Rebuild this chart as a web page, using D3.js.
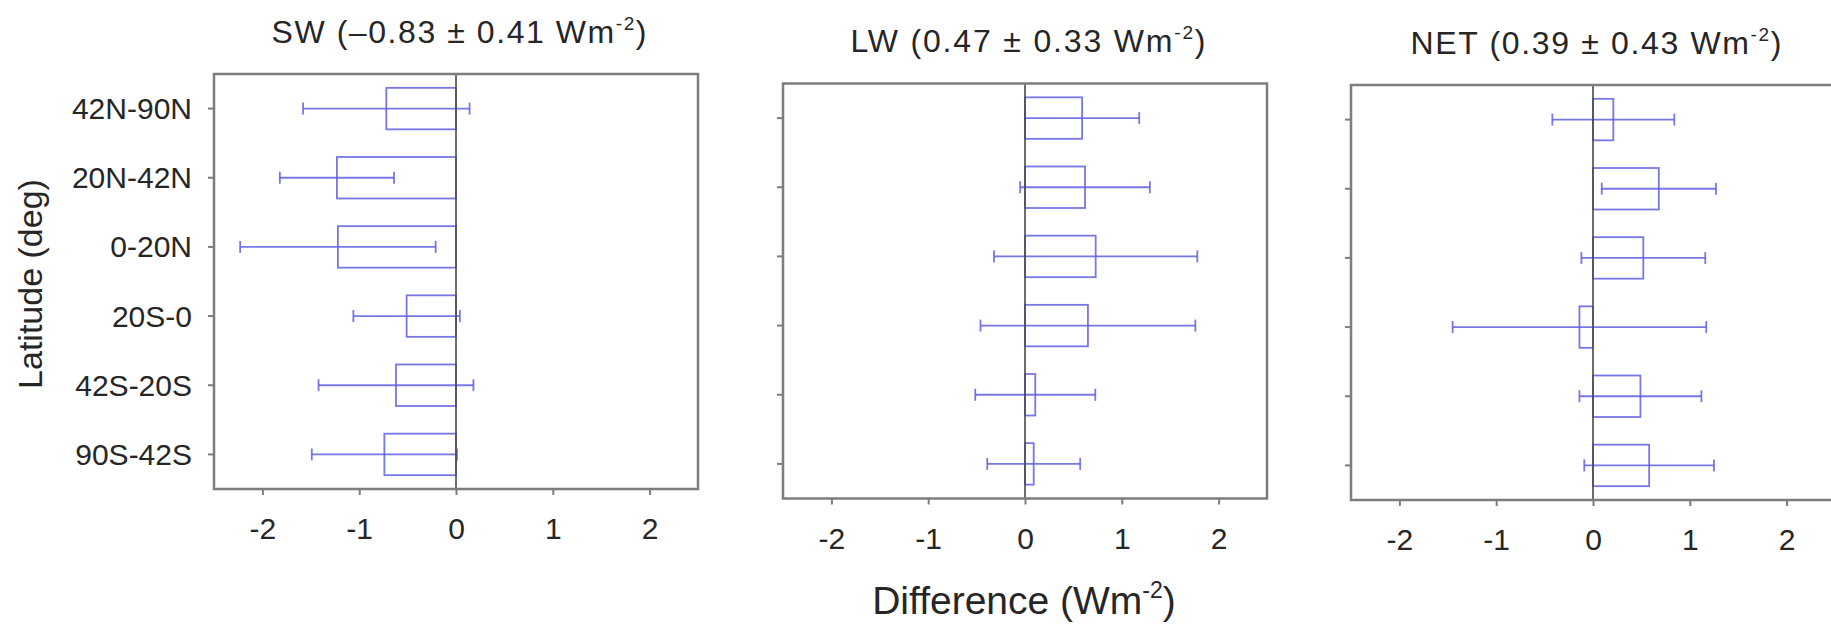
<!DOCTYPE html>
<html>
<head>
<meta charset="utf-8">
<script src="https://cdn.jsdelivr.net/npm/d3@7"></script>
<style>
  html, body { margin: 0; padding: 0; background: #fff; }
  svg { display: block; }
  text { font-family: "Liberation Sans", Arial, sans-serif; }
</style>
</head>
<body>
<svg id="chart" width="1831" height="624"></svg>
<script>
// ---------------- data ----------------
const categories = ["42N-90N", "20N-42N", "0-20N", "20S-0", "42S-20S", "90S-42S"];

const swValues  = [-0.72, -1.23, -1.22, -0.51, -0.62, -0.74];
const swErrors  = [ 0.86,  0.59,  1.01,  0.55,  0.80,  0.75];

const lwValues  = [0.59, 0.62, 0.73, 0.65, 0.106, 0.09];
const lwErrors  = [0.59, 0.67, 1.05, 1.11, 0.62, 0.48];

const netValues = [0.21, 0.68, 0.52, -0.14, 0.49, 0.58];
const netErrors = [0.63, 0.59, 0.64, 1.31, 0.63, 0.67];

const xTicks = [-2, -1, 0, 1, 2];
const xTickLabels = ["-2", "-1", "0", "1", "2"];
const xDomain = [-2.5, 2.5];

const panelNames = ["SW", "LW", "NET"];
const panelMeans = ["\u20130.83", "0.47", "0.39"];
const panelSpreads = ["0.41", "0.33", "0.43"];

const yAxisLabel = "Latitude (deg)";
const xAxisLabel = "Difference (Wm";

// ---------------- layout ----------------
const W = 484, H = 415;
const panelPos = [
  { left: 214,  top: 74,   titleLen: 375 },
  { left: 783,  top: 83.5, titleLen: 355 },
  { left: 1351, top: 85,   titleLen: 371 }
];
const series = [
  { values: swValues,  errors: swErrors },
  { values: lwValues,  errors: lwErrors },
  { values: netValues, errors: netErrors }
];

const blue = "#5f5fe2";
const frameColor = "#7d7d7d";
const textColor = "#262626";

const svg = d3.select("#chart");

const x = d3.scaleLinear().domain(xDomain).range([0, W]);
const y = d3.scaleBand().domain(categories).range([0, H])
  .paddingInner(0.4).paddingOuter(0.2);

series.forEach((s, i) => {
  const p = panelPos[i];
  const g = svg.append("g").attr("transform", `translate(${p.left},${p.top})`);

  // title
  const t = g.append("text")
    .attr("x", W / 2 + 3)
    .attr("y", -31.5)
    .attr("text-anchor", "middle")
    .attr("font-size", 32)
    .attr("fill", textColor)
    .attr("textLength", p.titleLen)
    .attr("lengthAdjust", "spacing");
  t.append("tspan").text(`${panelNames[i]} (${panelMeans[i]} \u00B1 ${panelSpreads[i]} Wm`);
  t.append("tspan").attr("font-size", 19).attr("dy", -13).text("-2");
  t.append("tspan").attr("dy", 13).text(")");

  const data = categories.map((c, k) => ({ cat: c, v: s.values[k], e: s.errors[k] }));

  // bars (outlined)
  g.selectAll("rect.bar").data(data).join("rect")
    .attr("class", "bar")
    .attr("x", d => Math.min(x(0), x(d.v)))
    .attr("width", d => Math.abs(x(d.v) - x(0)))
    .attr("y", d => y(d.cat))
    .attr("height", y.bandwidth())
    .attr("fill", "none")
    .attr("stroke", blue)
    .attr("stroke-width", 1.8)
    .attr("stroke-opacity", 0.85);

  // error bars
  const eg = g.selectAll("g.err").data(data).join("g").attr("class", "err")
    .attr("stroke", blue).attr("stroke-width", 1.8).attr("stroke-opacity", 0.85);
  eg.append("line")
    .attr("x1", d => x(d.v - d.e)).attr("x2", d => x(d.v + d.e))
    .attr("y1", d => y(d.cat) + y.bandwidth() / 2)
    .attr("y2", d => y(d.cat) + y.bandwidth() / 2);
  eg.append("line")
    .attr("x1", d => x(d.v - d.e)).attr("x2", d => x(d.v - d.e))
    .attr("y1", d => y(d.cat) + y.bandwidth() / 2 - 6)
    .attr("y2", d => y(d.cat) + y.bandwidth() / 2 + 6);
  eg.append("line")
    .attr("x1", d => x(d.v + d.e)).attr("x2", d => x(d.v + d.e))
    .attr("y1", d => y(d.cat) + y.bandwidth() / 2 - 6)
    .attr("y2", d => y(d.cat) + y.bandwidth() / 2 + 6);

  // zero line
  g.append("line")
    .attr("x1", x(0)).attr("x2", x(0))
    .attr("y1", 0).attr("y2", H)
    .attr("stroke", "#4a4a4a").attr("stroke-width", 1.6);

  // x axis
  const xa = g.append("g").attr("transform", `translate(0,${H})`)
    .call(d3.axisBottom(x).tickValues(xTicks)
      .tickFormat((d, k) => xTickLabels[k])
      .tickSize(6).tickSizeOuter(0).tickPadding(23));
  xa.select(".domain").remove();
  xa.selectAll(".tick line").attr("stroke", frameColor).attr("stroke-width", 2);
  xa.selectAll(".tick text").attr("font-size", 30).attr("fill", textColor)
    .attr("font-family", "'Liberation Sans', Arial, sans-serif");

  // y axis
  const ya = g.append("g")
    .call(d3.axisLeft(y).tickSize(6).tickSizeOuter(0).tickPadding(16));
  ya.select(".domain").remove();
  ya.selectAll(".tick line").attr("stroke", frameColor).attr("stroke-width", 2);
  if (i === 0) {
    ya.selectAll(".tick text").attr("font-size", 30).attr("fill", textColor)
      .attr("dy", "0.35em")
      .attr("font-family", "'Liberation Sans', Arial, sans-serif");
  } else {
    ya.selectAll(".tick text").remove();
  }

  // frame
  g.append("rect")
    .attr("x", 0).attr("y", 0).attr("width", W).attr("height", H)
    .attr("fill", "none").attr("stroke", frameColor).attr("stroke-width", 2.5);
});

// y-axis label
svg.append("text")
  .attr("transform", "translate(42,284) rotate(-90)")
  .attr("text-anchor", "middle")
  .attr("font-size", 34)
  .attr("fill", textColor)
  .text(yAxisLabel);

// x-axis label
const xl = svg.append("text")
  .attr("x", 1024).attr("y", 614)
  .attr("text-anchor", "middle")
  .attr("font-size", 39)
  .attr("fill", textColor);
xl.append("tspan").text(xAxisLabel);
xl.append("tspan").attr("font-size", 23).attr("dy", -16).text("-2");
xl.append("tspan").attr("dy", 16).text(")");
</script>
</body>
</html>
